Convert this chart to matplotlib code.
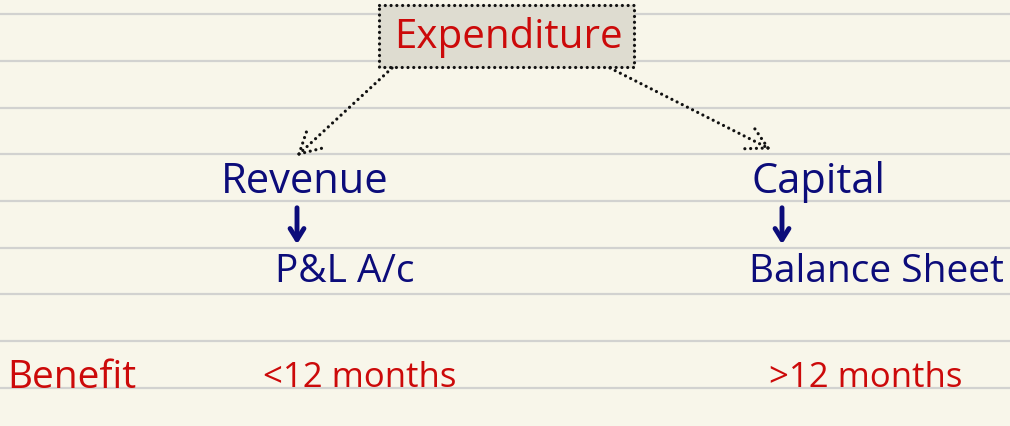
import math
import matplotlib
matplotlib.use("Agg")
import matplotlib.pyplot as plt

# ---- content ----
title_text = "Expenditure"
branch_labels = ["Revenue", "Capital"]
statement_labels = ["P&L A/c", "Balance Sheet"]
benefit_label = "Benefit"
benefit_values = ["<12 months", ">12 months"]

# ---- layout (pixel coords, y down) ----
W, H = 1010, 426
rule_ys = [14, 61, 108, 154, 201, 248, 294, 341, 388]
branch_x = [305, 818]
branch_y = 182
stmt_x = [345, 876]
stmt_y = 272
benefit_x = [360, 866]
benefit_y = 378

bg = "#f8f6ea"
red = "#cc0a0a"
navy = "#0c0c7a"
font = ["Open Sans", "DejaVu Sans"]

fig = plt.figure(figsize=(W / 100, H / 100), dpi=100)
fig.patch.set_facecolor(bg)
ax = fig.add_axes([0, 0, 1, 1])
ax.set_xlim(0, W)
ax.set_ylim(H, 0)
ax.axis("off")
ax.set_facecolor(bg)

for y in rule_ys:
    ax.axhline(y, color="#d2d2d0", lw=1.6, zorder=0)

# title box
bx0, bx1, by0, by1 = 379, 634, 5, 67
ax.fill([bx0, bx1, bx1, bx0], [by0, by0, by1, by1], color="#dedcd0", zorder=1)
dot = dict(color="#111111", lw=2.3, ls=(0, (0.01, 1.8)), solid_capstyle="round",
           dash_capstyle="round", zorder=3)
ax.plot([bx0, bx1, bx1, bx0, bx0], [by0, by0, by1, by1, by0], **dot)
ax.text((bx0 + bx1) / 2 + 2, 38, title_text, color=red, fontsize=29, family=font,
        ha="center", va="center", zorder=4)

# dotted arrows
arrows = [((392, 68), (299, 154)), ((610, 68), (768, 148))]
for (x0, y0), (x1, y1) in arrows:
    ax.plot([x0, x1], [y0, y1], **dot)
    ang = math.atan2(y0 - y1, x0 - x1)
    for da in (0.5, -0.5):
        L = 24
        hx = x1 + L * math.cos(ang + da)
        hy = y1 + L * math.sin(ang + da)
        ax.plot([x1, hx], [y1, hy], **dot)

# branch labels
for x, lab in zip(branch_x, branch_labels):
    ax.text(x, branch_y, lab, color=navy, fontsize=30, family=font,
            ha="center", va="center")

# down arrows
for x in [297, 782]:
    ax.annotate("", xy=(x, 247), xytext=(x, 205),
                arrowprops=dict(arrowstyle="->,head_length=0.8,head_width=0.5",
                                color=navy, lw=3.5))

for x, lab in zip(stmt_x, statement_labels):
    ax.text(x, stmt_y, lab, color=navy, fontsize=28, family=font,
            ha="center", va="center")

ax.text(72, 378, benefit_label, color=red, fontsize=28, family=font,
        ha="center", va="center")
for x, lab in zip(benefit_x, benefit_values):
    ax.text(x, benefit_y, lab, color=red, fontsize=25, family=font,
            ha="center", va="center")

fig.savefig("out.png", dpi=100, facecolor=bg)
